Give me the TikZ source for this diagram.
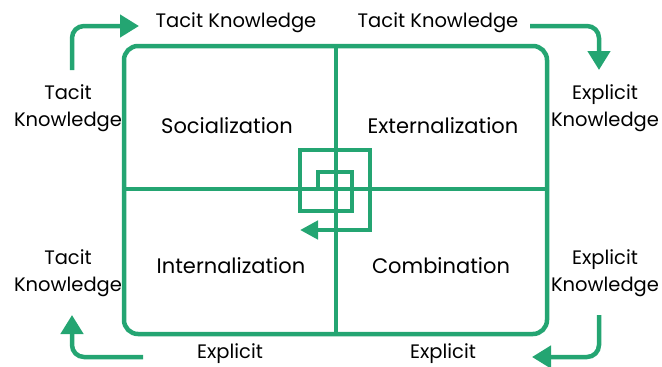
\documentclass[tikz,border=0pt]{standalone}
\usepackage{fontspec}
\setmainfont{Poppins}
\usetikzlibrary{arrows.meta}
\definecolor{seci}{RGB}{36,165,114}
\tikzset{frame/.style={draw=seci, line width=4.5pt}}
\tikzset{flow/.style={draw=seci, line width=4.5pt, rounded corners=12pt,
  -{Triangle[length=19pt,width=22pt]}}}
\tikzset{lbl/.style={font=\fontsize{19.5}{27}\selectfont, align=center, inner sep=0pt}}
\tikzset{mode/.style={font=\fontsize{21}{25}\selectfont, inner sep=0pt}}

\begin{document}
\begin{tikzpicture}[x=1pt, y=-1pt]
    \useasboundingbox (0,0) rectangle (662,367);
    % the four quadrants
    \draw[frame, rounded corners=14pt](124, 46) rectangle (547, 334);
    \draw[frame](336, 46)--(336, 334);
    \draw[frame](124, 189)--(547, 189);
    \node[mode](soc) at (227, 126){Socialization};
    \node[mode](ext) at (443, 126){Externalization};
    \node[mode](int) at (231, 266){Internalization};
    \node[mode](comb) at (441, 266){Combination};
    % spiral in the middle
    \draw[frame, -{Triangle[length=18pt,width=18pt]}](318, 189)--(318, 172)--(352, 172)
        --(352, 211)--(300, 211)--(300, 150)--(370, 150)--(370, 230)--(300, 230);
    % outer labels
    \node[lbl](tkTL) at (236, 23){Tacit Knowledge};
    \node[lbl](tkTR) at (438, 23){Tacit Knowledge};
    \node[lbl](tkL1) at (68, 108){Tacit\\Knowledge};
    \node[lbl](tkL2) at (68, 273){Tacit\\Knowledge};
    \node[lbl](ekR1) at (605, 108){Explicit\\Knowledge};
    \node[lbl](ekR2) at (605, 273){Explicit\\Knowledge};
    \node[lbl](exB1) at (230, 354){Explicit};
    \node[lbl](exB2) at (443, 354){Explicit};
    % turning arrows
    \coordinate (tlA) at (72, 70);
    \coordinate (tlB) at (139, 26);
    \coordinate (trA) at (530, 26);
    \coordinate (trB) at (599, 70);
    \coordinate (blA) at (143, 357);
    \coordinate (blB) at (72, 315);
    \coordinate (brA) at (599, 315);
    \coordinate (brB) at (532, 357);
    \draw[flow](tlA)|-(tlB);
    \draw[flow](trA)-|(trB);
    \draw[flow](blA)-|(blB);
    \draw[flow](brA)|-(brB);
\end{tikzpicture}
\end{document}
